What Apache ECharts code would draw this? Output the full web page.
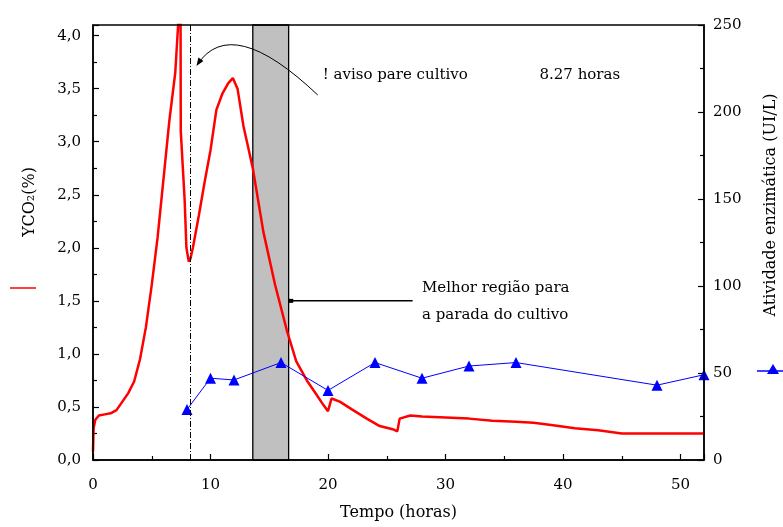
<!DOCTYPE html>
<html><head><meta charset="utf-8">
<script src="https://cdn.jsdelivr.net/npm/echarts@6/dist/echarts.min.js"></script>
<style>html,body{margin:0;padding:0;background:#fff}#c{width:783px;height:527px}</style>
</head><body><div id="c"></div>
<script>
// ---- data ----
const co2Time = [0.0,0.05,0.2,0.5,1.0,1.5,2.0,2.5,3.0,3.5,4.0,4.5,5.0,5.5,6.0,6.5,7.0,7.3,7.45,7.47,7.8,7.95,8.15,8.3,8.5,9.0,9.5,10.0,10.5,11.0,11.5,11.9,12.3,12.8,13.6,14.5,15.5,16.5,17.3,18.2,19.0,19.6,20.0,20.3,21.0,22.0,23.3,24.4,25.5,25.9,26.1,27.0,28.0,30.0,32.0,34.0,36.0,37.5,39.0,41.0,43.0,45.0,48.0,52.0];
const co2Values = [0.08,0.30,0.38,0.42,0.43,0.44,0.47,0.55,0.63,0.74,0.95,1.25,1.65,2.10,2.65,3.20,3.65,4.20,4.30,3.10,2.45,2.00,1.87,1.90,2.00,2.30,2.62,2.92,3.30,3.45,3.55,3.60,3.50,3.15,2.75,2.15,1.65,1.22,0.93,0.75,0.62,0.52,0.46,0.58,0.55,0.48,0.39,0.32,0.29,0.27,0.39,0.42,0.41,0.40,0.39,0.37,0.36,0.35,0.33,0.30,0.28,0.25,0.25,0.25];
const enzTime = [8,10,12,16,20,24,28,32,36,48,52];
const enzValues = [29,47,46,56,40,56,47,54,56,43,49];
const alertTime = 8.3;
const bestRegion = [13.6, 16.65];
const leftTitle = 'YCO₂(%)';
const rightTitle = 'Atividade enzimática (UI/L)';
const xTitle = 'Tempo (horas)';
const alertText = '! aviso pare cultivo';
const hoursText = '8.27 horas';
const bestText1 = 'Melhor região para';
const bestText2 = 'a parada do cultivo';

const FONT = 'DejaVu Serif';
const chart = echarts.init(document.getElementById('c'), null, {renderer:'canvas'});
const lbl = {color:'#000', fontFamily:FONT, fontSize:15};
chart.setOption({
  animation:false,
  backgroundColor:'#fff',
  grid:{left:93,right:79,top:25,bottom:67,show:true,borderColor:'#000',borderWidth:1.5,backgroundColor:'transparent',z:5},
  xAxis:{type:'value',min:0,max:52,interval:10,
    name:xTitle,nameLocation:'middle',nameGap:45,nameTextStyle:{color:'#000',fontFamily:FONT,fontSize:16},
    axisLine:{lineStyle:{color:'#000',width:1.5}},
    axisTick:{inside:true,length:6,lineStyle:{color:'#000',width:1.2}},
    minorTick:{show:true,splitNumber:2,length:4,lineStyle:{color:'#000',width:1.2}},
    axisLabel:Object.assign({margin:18,showMaxLabel:false},lbl),
    splitLine:{show:false}},
  yAxis:[
    {type:'value',min:0,max:4.1,interval:0.5,position:'left',
     axisLine:{show:true,lineStyle:{color:'#000',width:1.5}},
     axisTick:{inside:true,length:6,lineStyle:{color:'#000',width:1.2}},
     minorTick:{show:true,splitNumber:2,length:4,lineStyle:{color:'#000',width:1.2}},
     axisLabel:Object.assign({margin:12,showMaxLabel:false,formatter:v=>v.toFixed(1).replace('.',',')},lbl),
     splitLine:{show:false}},
    {type:'value',min:0,max:250,interval:50,position:'right',
     axisLine:{show:true,lineStyle:{color:'#000',width:1.5}},
     axisTick:{inside:true,length:6,lineStyle:{color:'#000',width:1.2}},
     minorTick:{show:true,splitNumber:2,length:4,lineStyle:{color:'#000',width:1.2}},
     axisLabel:Object.assign({margin:9},lbl),
     splitLine:{show:false}}
  ],
  series:[
    {type:'custom',name:'band',z:1,silent:true,
     data:[[bestRegion[0],bestRegion[1]]],
     renderItem:function(params,api){
       const p0=api.coord([api.value(0),0]), p1=api.coord([api.value(1),0]);
       const cs=params.coordSys;
       return {type:'rect',shape:{x:p0[0],y:cs.y,width:p1[0]-p0[0],height:cs.height},
         style:{fill:'#c0c0c0',stroke:'#000',lineWidth:1.3}};
     },
     encode:{x:[0,1]},
     markLine:{silent:true,symbol:['none','none'],label:{show:false},
       lineStyle:{color:'#000',width:1,type:[6,2,1,2]},data:[{xAxis:alertTime}]}},
    {type:'line',name:'YCO2',yAxisIndex:0,z:3,showSymbol:false,symbol:'none',
     data:co2Time.map((t,i)=>[t,co2Values[i]]),
     lineStyle:{color:'#ff0000',width:2.5},itemStyle:{color:'#ff0000'}},
    {type:'line',name:'Atividade',yAxisIndex:1,z:4,symbol:'triangle',symbolSize:11,
     data:enzTime.map((t,i)=>[t,enzValues[i]]),
     lineStyle:{color:'#0000ff',width:1},itemStyle:{color:'#0000ff'}}
  ]
});

function px(p){return chart.convertToPixel({xAxisIndex:0,yAxisIndex:0},p);}
// annotation anchors (data coordinates)
const curveStart=[8.9,3.73], curveCtrl=[11.8,4.21], curveEnd=[19.13,3.44];
const alertPos=[19.55,3.63], hoursPos=[38.0,3.63];
const bestPos1=[28.0,1.62], bestPos2=[28.0,1.37];
const arrowFrom=[27.2,1.50], arrowTo=[16.7,1.50];

const s=px(curveStart), c=px(curveCtrl), e=px(curveEnd);
const dx=s[0]-c[0], dy=s[1]-c[1], L=Math.hypot(dx,dy), ux=dx/L, uy=dy/L;
const a1=px(arrowFrom), a2=px(arrowTo);
const txt=(pos,t,al)=>({type:'text',z:100,x:pos[0],y:pos[1],style:{text:t,fill:'#000',font:'15px "'+FONT+'"',textAlign:al||'left',textVerticalAlign:'middle'}});
const g=[
  {type:'bezierCurve',z:100,shape:{x1:s[0],y1:s[1],x2:e[0],y2:e[1],cpx1:c[0],cpy1:c[1]},style:{stroke:'#000',lineWidth:1,fill:null}},
  {type:'polygon',z:100,shape:{points:[[s[0],s[1]],[s[0]-ux*8-uy*3,s[1]-uy*8+ux*3],[s[0]-ux*8+uy*3,s[1]-uy*8-ux*3]].map(p=>[p[0]+ux*2,p[1]+uy*2])},style:{fill:'#000'}},
  txt(px(alertPos),alertText), txt(px(hoursPos),hoursText),
  txt(px(bestPos1),bestText1), txt(px(bestPos2),bestText2),
  {type:'line',z:100,shape:{x1:a1[0],y1:a1[1],x2:a2[0],y2:a2[1]},style:{stroke:'#000',lineWidth:1.5}},
  {type:'rect',z:100,shape:{x:a2[0]-1,y:a2[1]-2,width:5,height:4},style:{fill:'#000'}},
  {type:'text',z:100,x:30,y:202,rotation:Math.PI/2,style:{text:leftTitle,fill:'#000',font:'16px "'+FONT+'"',textAlign:'center',textVerticalAlign:'middle'}},
  {type:'line',z:100,shape:{x1:10,y1:288,x2:36,y2:288},style:{stroke:'#ff0000',lineWidth:1.5}},
  {type:'text',z:100,x:771,y:205,rotation:Math.PI/2,style:{text:rightTitle,fill:'#000',font:'16px "'+FONT+'"',textAlign:'center',textVerticalAlign:'middle'}},
  {type:'line',z:100,shape:{x1:757,y1:371,x2:783,y2:371},style:{stroke:'#0000ff',lineWidth:1.5}},
  {type:'polygon',z:100,shape:{points:[[773,364],[767,374],[779,374]]},style:{fill:'#0000ff'}}
];
chart.setOption({graphic:g});
</script></body></html>
